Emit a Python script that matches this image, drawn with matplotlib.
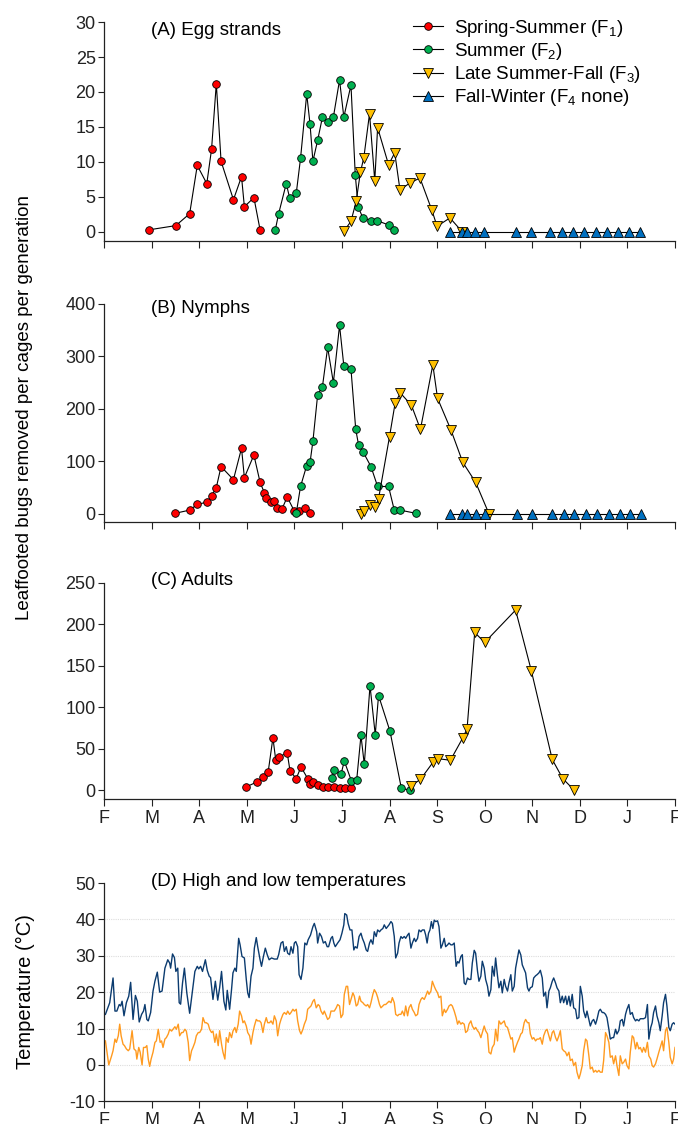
import numpy as np
import matplotlib
matplotlib.use('Agg')
import matplotlib.pyplot as plt

plt.rcParams['font.family'] = ['Liberation Sans', 'DejaVu Sans']
plt.rcParams['mathtext.default'] = 'regular'
plt.rcParams['axes.unicode_minus'] = False

# x positions are in months after 1 Feb (0 = F, 12 = next F)
month_labels = ['F', 'M', 'A', 'M', 'J', 'J', 'A', 'S', 'O', 'N', 'D', 'J', 'F']
series_names = ['Spring-Summer (F$_1$)', 'Summer (F$_2$)',
                'Late Summer-Fall (F$_3$)', 'Fall-Winter (F$_4$ none)']

# (A) egg strands
egg_f1_x = [0.95, 1.51, 1.80, 1.96, 2.16, 2.26, 2.36, 2.46, 2.72, 2.89, 2.95, 3.15, 3.28]
egg_f1_y = [0.3, 0.9, 2.6, 9.5, 6.9, 11.8, 21.2, 10.1, 4.6, 7.9, 3.6, 4.9, 0.3]
egg_f2_x = [3.60, 3.67, 3.83, 3.90, 4.04, 4.13, 4.26, 4.33, 4.39, 4.49, 4.59, 4.70,
            4.82, 4.95, 5.04, 5.19, 5.28, 5.34, 5.44, 5.61, 5.74, 5.98, 6.10]
egg_f2_y = [0.3, 2.6, 6.9, 4.9, 5.5, 10.5, 19.7, 15.4, 10.1, 13.1, 16.4, 15.7,
            16.4, 21.7, 16.4, 21.0, 8.2, 3.6, 2.0, 1.6, 1.6, 1.0, 0.3]
egg_f3_x = [5.04, 5.19, 5.30, 5.39, 5.46, 5.58, 5.69, 5.75, 5.98, 6.11, 6.22,
            6.43, 6.64, 6.89, 7.00, 7.27, 7.53]
egg_f3_y = [0.1, 1.5, 4.4, 8.6, 10.6, 16.9, 7.3, 14.9, 9.6, 11.3, 6.0,
            7.0, 7.7, 3.1, 0.8, 2.0, 0.0]
egg_f4_x = [7.28, 7.52, 7.63, 7.80, 7.99, 8.65, 8.97, 9.37, 9.63, 9.86, 10.09,
            10.33, 10.57, 10.81, 11.04, 11.27]
egg_f4_y = [0] * 16

# (B) nymphs
nym_f1_x = [1.50, 1.80, 1.96, 2.16, 2.26, 2.36, 2.46, 2.72, 2.89, 2.95, 3.15, 3.28,
            3.37, 3.41, 3.50, 3.57, 3.63, 3.74, 3.85, 4.00, 4.10, 4.23, 4.33]
nym_f1_y = [1, 7, 18, 22, 34, 50, 90, 65, 125, 69, 112, 60,
            40, 30, 23, 24, 11, 9, 32, 5, 5, 11, 2]
nym_f2_x = [4.04, 4.13, 4.26, 4.33, 4.39, 4.49, 4.59, 4.70, 4.82, 4.95, 5.04,
            5.19, 5.29, 5.35, 5.45, 5.61, 5.75, 5.98, 6.10, 6.22, 6.55]
nym_f2_y = [1, 52, 92, 98, 138, 227, 242, 317, 250, 359, 282,
            276, 161, 131, 117, 90, 52, 52, 7, 7, 1]
nym_f3_x = [5.41, 5.46, 5.60, 5.70, 5.77, 6.00, 6.12, 6.23, 6.46, 6.65, 6.91,
            7.01, 7.29, 7.54, 7.81, 8.09]
nym_f3_y = [0, 5, 17, 13, 29, 147, 212, 230, 207, 161, 284,
            220, 160, 98, 60, 0]
nym_f4_x = [7.28, 7.52, 7.63, 7.81, 8.00, 8.67, 8.99, 9.42, 9.66, 9.88, 10.12,
            10.35, 10.61, 10.84, 11.06, 11.29]
nym_f4_y = [0] * 16

# (C) adults
adu_f1_x = [2.99, 3.22, 3.35, 3.45, 3.55, 3.61, 3.68, 3.85, 3.91, 4.04, 4.14,
            4.28, 4.33, 4.40, 4.50, 4.60, 4.70, 4.83, 4.96, 5.07, 5.20]
adu_f1_y = [4, 10, 16, 22, 63, 36, 40, 45, 23, 14, 28,
            14, 7, 10, 6, 4, 4, 4, 3, 2, 2]
adu_f2_x = [4.79, 4.84, 4.98, 5.05, 5.20, 5.31, 5.40, 5.47, 5.59, 5.70, 5.77,
            6.01, 6.25, 6.44]
adu_f2_y = [15, 24, 19, 35, 11, 12, 66, 31, 126, 67, 114, 71, 2, 0]
adu_f3_x = [6.45, 6.65, 6.92, 7.01, 7.28, 7.54, 7.63, 7.79, 8.00, 8.65, 8.98,
            9.42, 9.64, 9.88]
adu_f3_y = [5, 13, 34, 38, 36, 63, 74, 190, 178, 217, 144, 37, 14, 0]

# (D) daily high and low temperatures: (month position, degC)
temp_high = [
    (0.03, 13.9), (0.12, 17.1), (0.19, 23.9), (0.23, 14.8), (0.27, 14.8), (0.32, 16.6),
    (0.35, 16.2), (0.38, 17.5), (0.42, 13.5), (0.47, 17.1), (0.52, 18.9), (0.56, 22.7),
    (0.61, 12.5), (0.66, 19.1), (0.70, 17.5), (0.74, 11.8), (0.79, 13.9), (0.83, 14.8),
    (0.86, 16.6), (0.90, 12.5), (0.93, 12.1), (0.98, 14.4), (1.03, 20.3), (1.07, 23.0),
    (1.12, 25.5), (1.17, 20.0), (1.22, 20.3), (1.28, 26.6), (1.34, 28.9), (1.38, 28.0),
    (1.40, 26.6), (1.44, 30.5), (1.48, 29.5), (1.51, 25.7), (1.55, 26.6), (1.58, 17.1),
    (1.61, 16.7), (1.65, 22.5), (1.69, 26.6), (1.74, 19.8), (1.80, 14.2), (1.86, 20.5),
    (1.91, 25.7), (1.96, 27.1), (1.99, 26.4), (2.03, 27.1), (2.07, 25.7), (2.13, 28.9),
    (2.17, 26.0), (2.21, 24.4), (2.24, 24.0), (2.29, 18.0), (2.34, 23.0), (2.39, 17.8),
    (2.43, 21.2), (2.47, 25.7), (2.52, 17.5), (2.56, 15.1), (2.59, 20.5), (2.64, 15.3),
    (2.68, 20.7), (2.71, 25.3), (2.75, 26.6), (2.78, 25.7), (2.83, 34.8), (2.86, 33.0),
    (2.90, 29.8), (2.95, 29.4), (2.99, 23.5), (3.02, 19.8), (3.05, 18.5), (3.09, 24.4),
    (3.13, 26.6), (3.16, 32.1), (3.20, 35.0), (3.23, 32.5), (3.28, 28.9), (3.31, 27.1),
    (3.35, 29.8), (3.39, 32.1), (3.43, 30.3), (3.47, 28.9), (3.52, 29.4), (3.58, 29.1),
    (3.64, 29.1), (3.67, 30.3), (3.72, 33.5), (3.76, 33.9), (3.79, 31.2), (3.83, 32.5),
    (3.86, 30.7), (3.90, 30.3), (3.93, 32.5), (3.97, 30.7), (4.00, 33.5), (4.03, 33.9),
    (4.07, 32.5), (4.10, 24.8), (4.14, 23.5), (4.18, 26.6), (4.22, 33.5), (4.26, 33.0),
    (4.29, 34.4), (4.34, 35.7), (4.39, 38.0), (4.42, 38.9), (4.47, 36.6), (4.49, 33.5),
    (4.53, 36.2), (4.57, 35.3), (4.61, 33.5), (4.65, 33.9), (4.69, 32.5), (4.72, 32.5),
    (4.77, 34.8), (4.80, 35.3), (4.83, 33.5), (4.86, 32.5), (4.91, 33.5), (4.96, 34.4),
    (5.00, 36.2), (5.04, 38.5), (5.06, 41.6), (5.10, 41.2), (5.13, 38.9), (5.17, 37.1),
    (5.21, 37.1), (5.25, 31.6), (5.28, 32.5), (5.32, 32.1), (5.36, 35.3), (5.40, 36.2),
    (5.43, 34.8), (5.47, 33.5), (5.51, 31.6), (5.54, 31.2), (5.58, 33.5), (5.61, 34.4),
    (5.65, 33.2), (5.68, 36.6), (5.72, 35.3), (5.75, 37.1), (5.79, 36.6), (5.82, 37.1),
    (5.86, 37.5), (5.89, 38.5), (5.93, 37.5), (5.99, 38.5), (6.03, 39.4), (6.06, 38.9),
    (6.10, 35.3), (6.13, 29.4), (6.17, 30.7), (6.20, 33.5), (6.24, 35.3), (6.27, 34.8),
    (6.31, 35.3), (6.34, 34.8), (6.38, 35.7), (6.41, 36.2), (6.45, 32.1), (6.48, 33.5),
    (6.52, 34.8), (6.55, 33.9), (6.59, 34.8), (6.62, 37.1), (6.66, 36.6), (6.69, 37.1),
    (6.73, 37.1), (6.76, 35.7), (6.79, 33.5), (6.82, 36.2), (6.85, 37.1), (6.88, 39.4),
    (6.91, 37.5), (6.94, 39.8), (6.97, 39.4), (7.01, 39.6), (7.04, 38.0), (7.08, 32.1),
    (7.11, 33.0), (7.15, 34.8), (7.18, 32.5), (7.22, 33.0), (7.25, 33.5), (7.29, 33.0),
    (7.32, 33.0), (7.36, 33.5), (7.40, 27.1), (7.43, 28.4), (7.46, 28.0), (7.50, 29.8),
    (7.53, 30.3), (7.57, 22.5), (7.60, 22.1), (7.64, 23.9), (7.67, 23.5), (7.71, 23.5),
    (7.74, 28.0), (7.78, 31.5), (7.81, 30.7), (7.85, 25.7), (7.88, 23.0), (7.92, 24.4),
    (7.95, 28.5), (7.99, 26.6), (8.02, 23.5), (8.06, 21.6), (8.09, 18.9), (8.13, 20.7),
    (8.16, 27.1), (8.20, 24.4), (8.23, 29.4), (8.27, 24.4), (8.30, 21.2), (8.34, 23.0),
    (8.37, 19.8), (8.41, 23.5), (8.44, 21.6), (8.48, 20.3), (8.51, 22.5), (8.55, 24.8),
    (8.58, 20.3), (8.62, 21.6), (8.65, 26.6), (8.69, 29.4), (8.72, 31.6), (8.76, 30.2),
    (8.79, 27.5), (8.83, 26.2), (8.86, 25.3), (8.90, 21.2), (8.93, 20.3), (8.96, 21.2),
    (9.00, 21.5), (9.03, 23.9), (9.07, 24.5), (9.10, 24.8), (9.14, 25.3), (9.17, 26.0),
    (9.21, 23.9), (9.24, 18.9), (9.28, 20.0), (9.31, 15.7), (9.35, 20.3), (9.38, 21.2),
    (9.42, 23.0), (9.45, 23.9), (9.49, 22.5), (9.52, 21.2), (9.56, 20.3), (9.59, 17.1),
    (9.63, 18.9), (9.66, 17.1), (9.70, 18.9), (9.73, 16.6), (9.77, 18.9), (9.80, 16.2),
    (9.84, 19.4), (9.87, 15.7), (9.91, 15.3), (9.94, 12.7), (9.98, 13.0), (10.01, 21.6),
    (10.05, 18.9), (10.08, 14.8), (10.12, 13.0), (10.15, 14.8), (10.19, 12.5), (10.22, 10.7),
    (10.26, 12.1), (10.29, 12.5), (10.33, 11.2), (10.36, 12.5), (10.40, 14.8), (10.43, 15.3),
    (10.47, 14.4), (10.50, 14.4), (10.54, 13.9), (10.57, 13.0), (10.61, 9.8), (10.64, 7.1),
    (10.68, 7.5), (10.71, 7.5), (10.75, 9.8), (10.78, 8.5), (10.82, 9.5), (10.85, 12.1),
    (10.89, 12.5), (10.92, 10.7), (10.96, 13.9), (10.99, 15.3), (11.03, 16.6), (11.06, 13.9),
    (11.10, 14.4), (11.13, 13.0), (11.17, 12.1), (11.20, 12.5), (11.24, 12.1), (11.27, 12.7),
    (11.31, 12.7), (11.34, 12.7), (11.38, 13.0), (11.42, 16.6), (11.45, 7.1), (11.49, 10.3),
    (11.52, 11.6), (11.55, 14.4), (11.59, 16.2), (11.62, 13.5), (11.66, 11.6), (11.69, 9.4),
    (11.73, 13.5), (11.76, 17.1), (11.80, 19.4), (11.83, 16.2), (11.87, 10.3), (11.90, 9.4),
    (11.94, 11.2), (11.97, 11.6), (12.00, 11.2),
]
temp_low = [
    (0.03, 6.6), (0.10, 0.0), (0.16, 2.5), (0.19, 3.9), (0.23, 7.1), (0.26, 6.2),
    (0.30, 8.0), (0.33, 11.2), (0.36, 8.0), (0.40, 5.7), (0.43, 5.3), (0.47, 4.4),
    (0.51, 3.9), (0.54, 4.4), (0.59, 9.4), (0.63, 4.4), (0.67, 3.9), (0.69, 1.6),
    (0.73, 4.8), (0.76, 3.5), (0.80, 0.0), (0.83, 4.8), (0.87, 4.8), (0.90, 5.3),
    (0.93, 1.6), (0.96, -0.4), (0.99, 1.6), (1.03, 3.5), (1.07, 6.2), (1.10, 6.6),
    (1.14, 9.8), (1.18, 6.2), (1.21, 6.6), (1.24, 4.8), (1.28, 7.1), (1.31, 7.5),
    (1.35, 8.5), (1.38, 9.8), (1.42, 9.3), (1.45, 9.8), (1.49, 10.5), (1.52, 9.8),
    (1.56, 11.2), (1.59, 8.0), (1.63, 8.9), (1.66, 8.9), (1.70, 9.8), (1.73, 9.3),
    (1.77, 6.2), (1.80, 1.2), (1.84, 3.9), (1.87, 4.8), (1.91, 6.2), (1.94, 8.0),
    (1.98, 8.9), (2.01, 8.9), (2.05, 9.8), (2.08, 13.0), (2.12, 11.6), (2.15, 11.6),
    (2.19, 11.2), (2.22, 9.8), (2.26, 8.9), (2.29, 9.3), (2.33, 6.2), (2.36, 8.5),
    (2.40, 5.3), (2.43, 9.4), (2.47, 5.7), (2.50, 3.5), (2.54, 1.6), (2.57, 7.5),
    (2.61, 6.2), (2.64, 8.9), (2.68, 7.5), (2.71, 9.3), (2.75, 10.3), (2.78, 8.9),
    (2.82, 11.2), (2.85, 14.8), (2.89, 13.5), (2.92, 11.6), (2.95, 12.1), (2.99, 10.7),
    (3.02, 8.9), (3.06, 8.0), (3.09, 5.7), (3.13, 8.9), (3.16, 10.7), (3.20, 12.5),
    (3.23, 12.1), (3.27, 12.1), (3.30, 11.6), (3.34, 8.9), (3.37, 11.2), (3.41, 13.0),
    (3.44, 11.6), (3.48, 11.6), (3.51, 12.1), (3.55, 11.2), (3.58, 13.5), (3.62, 12.1),
    (3.65, 8.0), (3.69, 11.2), (3.72, 12.5), (3.76, 13.9), (3.79, 14.4), (3.83, 13.9),
    (3.86, 14.8), (3.90, 13.9), (3.93, 14.4), (3.97, 15.3), (4.00, 14.8), (4.04, 15.3),
    (4.07, 12.1), (4.11, 9.4), (4.14, 8.5), (4.18, 9.8), (4.21, 11.2), (4.25, 12.5),
    (4.28, 15.3), (4.31, 15.7), (4.35, 16.2), (4.39, 17.5), (4.42, 18.0), (4.46, 15.7),
    (4.50, 16.6), (4.53, 16.2), (4.56, 14.8), (4.60, 13.9), (4.63, 14.8), (4.67, 13.5),
    (4.70, 12.5), (4.74, 13.0), (4.77, 14.8), (4.81, 14.8), (4.84, 14.8), (4.88, 15.7),
    (4.91, 16.6), (4.95, 16.2), (4.98, 13.0), (5.02, 13.9), (5.05, 19.4), (5.09, 21.6),
    (5.12, 21.6), (5.16, 16.6), (5.19, 18.0), (5.23, 19.8), (5.26, 18.9), (5.30, 16.2),
    (5.33, 16.6), (5.37, 18.9), (5.40, 17.5), (5.44, 17.1), (5.47, 16.6), (5.51, 16.2),
    (5.54, 16.6), (5.58, 15.7), (5.61, 17.1), (5.65, 19.4), (5.68, 20.7), (5.72, 19.8),
    (5.75, 18.6), (5.79, 16.6), (5.82, 15.7), (5.86, 16.2), (5.89, 16.6), (5.92, 16.6),
    (5.96, 17.1), (5.99, 17.5), (6.03, 17.1), (6.06, 18.5), (6.10, 17.1), (6.13, 13.9),
    (6.17, 13.5), (6.20, 13.9), (6.24, 13.9), (6.27, 14.8), (6.31, 13.5), (6.34, 16.2),
    (6.38, 13.5), (6.41, 15.7), (6.45, 16.6), (6.48, 15.3), (6.52, 14.4), (6.55, 13.5),
    (6.59, 13.9), (6.62, 16.6), (6.66, 18.0), (6.69, 18.5), (6.73, 18.0), (6.76, 18.9),
    (6.80, 20.3), (6.83, 19.4), (6.87, 20.3), (6.90, 23.0), (6.94, 21.6), (6.97, 20.7),
    (7.01, 19.8), (7.04, 18.5), (7.08, 18.9), (7.11, 13.5), (7.15, 15.3), (7.18, 14.4),
    (7.22, 15.3), (7.25, 16.2), (7.29, 16.6), (7.32, 16.2), (7.36, 14.8), (7.40, 13.0),
    (7.43, 11.2), (7.46, 12.1), (7.50, 11.2), (7.53, 11.6), (7.57, 11.2), (7.60, 8.9),
    (7.64, 9.4), (7.67, 11.2), (7.71, 12.1), (7.74, 10.7), (7.78, 9.8), (7.81, 10.3),
    (7.85, 9.4), (7.88, 8.9), (7.92, 7.5), (7.95, 8.9), (7.99, 10.7), (8.02, 9.4),
    (8.06, 8.5), (8.09, 3.5), (8.13, 3.0), (8.16, 4.8), (8.20, 5.7), (8.23, 9.8),
    (8.27, 6.6), (8.30, 12.1), (8.34, 11.2), (8.37, 11.6), (8.41, 12.1), (8.44, 10.7),
    (8.48, 10.3), (8.51, 8.9), (8.55, 7.1), (8.58, 7.5), (8.62, 3.5), (8.65, 4.8),
    (8.69, 6.2), (8.72, 7.1), (8.76, 8.5), (8.79, 8.9), (8.83, 11.6), (8.86, 12.5),
    (8.90, 11.6), (8.93, 11.6), (8.96, 8.5), (9.00, 7.1), (9.03, 7.5), (9.07, 6.6),
    (9.10, 7.1), (9.14, 7.1), (9.17, 7.5), (9.21, 5.7), (9.24, 8.0), (9.28, 9.4),
    (9.31, 9.8), (9.35, 8.0), (9.38, 6.6), (9.42, 8.9), (9.45, 9.4), (9.49, 7.5),
    (9.52, 6.6), (9.56, 8.0), (9.59, 9.4), (9.63, 4.4), (9.66, 3.9), (9.70, 3.5),
    (9.73, 2.5), (9.77, 3.5), (9.80, 1.2), (9.84, 1.6), (9.87, -0.2), (9.91, 0.7),
    (9.94, -2.0), (9.98, -3.8), (10.01, -2.5), (10.05, -0.2), (10.08, 3.9), (10.12, 7.1),
    (10.15, 6.6), (10.19, 2.5), (10.22, -1.1), (10.26, -0.6), (10.29, -2.0), (10.33, -1.5),
    (10.36, -2.0), (10.40, -1.5), (10.43, -2.0), (10.47, -2.0), (10.50, 1.2), (10.54, 8.9),
    (10.57, 8.0), (10.61, 6.2), (10.64, 2.1), (10.68, 2.5), (10.71, 0.3), (10.75, 2.5),
    (10.78, -0.2), (10.82, -2.9), (10.85, 2.5), (10.89, 0.3), (10.92, 0.7), (10.96, 1.6),
    (10.99, -0.2), (11.03, -1.1), (11.06, 3.5), (11.10, 8.0), (11.13, 7.5), (11.17, 4.4),
    (11.20, 6.2), (11.24, 4.4), (11.27, 4.8), (11.31, 3.5), (11.34, 4.8), (11.38, 3.5),
    (11.42, 6.2), (11.45, 2.5), (11.49, 1.6), (11.52, -0.2), (11.55, -0.6), (11.59, 0.3),
    (11.62, 1.6), (11.66, 3.5), (11.69, 4.8), (11.73, 6.6), (11.76, 3.9), (11.80, 9.4),
    (11.83, 10.3), (11.87, 6.2), (11.90, 2.1), (11.94, 0.3), (11.97, 1.6), (12.00, 4.8),
]

col_f1, col_f2, col_f3, col_f4 = '#FF0000', '#00B050', '#FFC000', '#0070C0'


def style_axis(ax, ylim, yticks, show_xlabels):
    ax.set_xlim(0, 12)
    ax.set_ylim(*ylim)
    ax.set_xticks(range(13))
    ax.set_yticks(yticks)
    if show_xlabels:
        ax.set_xticklabels(month_labels)
    else:
        ax.set_xticklabels([])
    for s in ['top', 'right']:
        ax.spines[s].set_visible(False)
    for s in ['left', 'bottom']:
        ax.spines[s].set_linewidth(0.9)
        ax.spines[s].set_color('#222222')
    ax.tick_params(direction='out', length=4, width=0.8, labelsize=13,
                   colors='#222222', pad=2)
    ax.tick_params(axis='x', length=5, pad=3)


def gen_line(ax, x, y, color, marker, label=None):
    ms = 5.5 if marker == 'o' else 7
    return ax.plot(x, y, color='black', lw=0.8, marker=marker, ms=ms,
                   mfc=color, mec='black', mew=0.6, label=label)[0]


fig = plt.figure(figsize=(6.78, 11.24), dpi=100)
L, W = 0.1534, 0.8422
title_fs = 13.5

# (A)
axA = fig.add_axes([L, 0.7856, W, 0.1948])
h1 = gen_line(axA, egg_f1_x, egg_f1_y, col_f1, 'o', series_names[0])
h2 = gen_line(axA, egg_f2_x, egg_f2_y, col_f2, 'o', series_names[1])
h3 = gen_line(axA, egg_f3_x, egg_f3_y, col_f3, 'v', series_names[2])
h4 = gen_line(axA, egg_f4_x, egg_f4_y, col_f4, '^', series_names[3])
style_axis(axA, (-1.3, 30), range(0, 31, 5), False)
axA.text(0.082, 0.963, '(A) Egg strands', transform=axA.transAxes, fontsize=title_fs,
         va='center')
axA.legend(handles=[h1, h2, h3, h4], loc='upper left', bbox_to_anchor=(0.541, 1.02),
           frameon=False, fontsize=title_fs, handlelength=1.6, handletextpad=0.6,
           labelspacing=0.12, borderpad=0, borderaxespad=0, numpoints=1)

# (B)
axB = fig.add_axes([L, 0.5359, W, 0.1937])
gen_line(axB, nym_f1_x, nym_f1_y, col_f1, 'o')
gen_line(axB, nym_f2_x, nym_f2_y, col_f2, 'o')
gen_line(axB, nym_f3_x, nym_f3_y, col_f3, 'v')
gen_line(axB, nym_f4_x, nym_f4_y, col_f4, '^')
style_axis(axB, (-15, 400), range(0, 401, 100), False)
axB.text(0.082, 0.977, '(B) Nymphs', transform=axB.transAxes, fontsize=title_fs, va='center')

# (C)
axC = fig.add_axes([L, 0.2889, W, 0.1927])
gen_line(axC, adu_f1_x, adu_f1_y, col_f1, 'o')
gen_line(axC, adu_f2_x, adu_f2_y, col_f2, 'o')
gen_line(axC, adu_f3_x, adu_f3_y, col_f3, 'v')
style_axis(axC, (-11, 250), range(0, 251, 50), True)
axC.text(0.082, 1.012, '(C) Adults', transform=axC.transAxes, fontsize=title_fs, va='center')

# (D)
axD = fig.add_axes([L, 0.0202, W, 0.1942])
for g in [0, 10, 20, 30, 40]:
    axD.axhline(g, color='#dddddd', lw=0.8, ls=(0, (1, 1)), zorder=0)
hx, hy = zip(*temp_high)
lx, ly = zip(*temp_low)
axD.plot(hx, hy, color='#0B3B6F', lw=1.0)
axD.plot(lx, ly, color='#FF9A1F', lw=1.0)
style_axis(axD, (-10, 50), range(-10, 51, 10), True)
axD.text(0.082, 1.005, '(D) High and low temperatures', transform=axD.transAxes,
         fontsize=title_fs, va='center')

fig.text(25 / 678, 1 - 407 / 1124, 'Leaffooted bugs removed per cages per generation',
         rotation=90, ha='center', va='center', fontsize=13.5)
fig.text(25 / 678, 1 - 992 / 1124, 'Temperature (°C)', rotation=90, ha='center',
         va='center', fontsize=14.5)

fig.savefig('out.png', dpi=100)
